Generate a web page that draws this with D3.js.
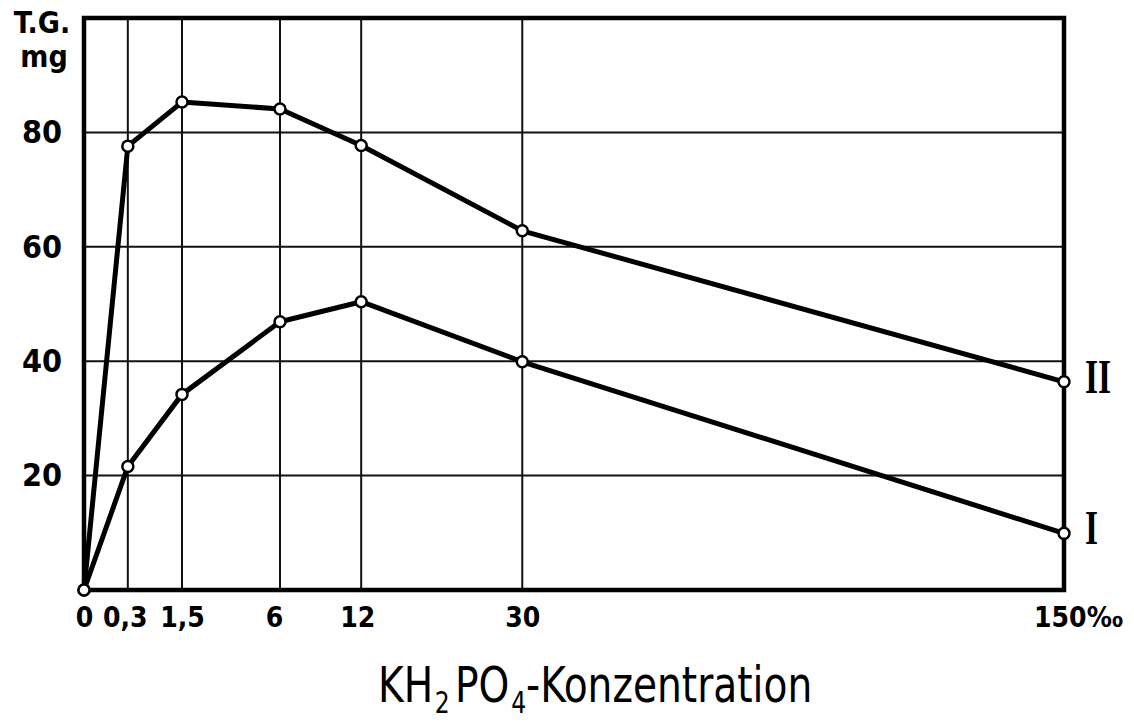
<!DOCTYPE html>
<html>
<head>
<meta charset="utf-8">
<script src="https://cdn.jsdelivr.net/npm/d3@7"></script>
<style>
   body { margin: 0; background: #fff; }
   svg { display: block; }
</style>
</head>
<body>
<svg width="1134" height="722"></svg>
<script>
// concentration of KH2PO4 (per mille)
var concentrations = [0, 0.3, 1.5, 6, 12, 30, 150];
// dry weight (T.G., mg)
var curveI = [0, 21.6, 34.2, 46.9, 50.4, 39.9, 9.9];
var curveII = [0, 77.6, 85.3, 84.1, 77.7, 62.8, 36.4];
var seriesNames = ['I', 'II'];
var yTicks = [20, 40, 60, 80];

var svg = d3.select('svg');

var margin = {top: 18, right: 70, bottom: 132, left: 84};
var width = +svg.attr('width') - margin.left - margin.right;
var height = +svg.attr('height') - margin.top - margin.bottom;

var g = svg.append('g').attr('transform', 'translate(' + margin.left + ',' + margin.top + ')');

var x = d3.scaleSqrt().domain([0, 150]).range([0, width]);
var y = d3.scaleLinear().domain([0, 100]).range([height, 0]);

var tickFont = '"DejaVu Sans Condensed", "DejaVu Sans", sans-serif';

// grid
g.append('g')
   .selectAll('line')
   .data(concentrations.slice(1, -1))
   .enter().append('line')
   .attr('x1', function (d) { return x(d); })
   .attr('x2', function (d) { return x(d); })
   .attr('y1', 0).attr('y2', height)
   .attr('stroke', '#111').attr('stroke-width', 2);

g.append('g')
   .selectAll('line')
   .data(yTicks)
   .enter().append('line')
   .attr('x1', 0).attr('x2', width)
   .attr('y1', function (d) { return y(d); })
   .attr('y2', function (d) { return y(d); })
   .attr('stroke', '#111').attr('stroke-width', 2);

// frame
g.append('rect')
   .attr('width', width).attr('height', height)
   .attr('fill', 'none').attr('stroke', '#000').attr('stroke-width', 4.5);

// axes (labels only)
var xAxis = g.append('g')
   .attr('transform', 'translate(0,' + height + ')')
   .call(d3.axisBottom(x).tickValues(concentrations).tickSize(0).tickPadding(17)
      .tickFormat(function (d) {
         return d === 150 ? '150‰' : String(d).replace('.', ',');
      }));
xAxis.select('.domain').remove();
xAxis.selectAll('text')
   .attr('font-family', tickFont).attr('font-weight', 'bold')
   .attr('font-size', 28).attr('fill', '#000')
   .attr('dx', function (d) {
      return d === 150 ? 14 : (d === 0.3 ? -3 : (d === 6 ? -6 : (d === 12 ? -4 : 0)));
   });

var yAxis = g.append('g')
   .call(d3.axisLeft(y).tickValues(yTicks).tickSize(0).tickPadding(22));
yAxis.select('.domain').remove();
yAxis.selectAll('text')
   .attr('font-family', tickFont).attr('font-weight', 'bold')
   .attr('font-size', 32).attr('fill', '#000');

// y unit label
svg.append('text')
   .attr('x', 42).attr('y', 33)
   .attr('text-anchor', 'middle')
   .attr('font-family', tickFont).attr('font-weight', 'bold').attr('font-size', 30)
   .text('T.G.');
svg.append('text')
   .attr('x', 44).attr('y', 67)
   .attr('text-anchor', 'middle')
   .attr('font-family', tickFont).attr('font-weight', 'bold').attr('font-size', 30)
   .text('mg');

// x title
var title = svg.append('text')
   .attr('transform', 'translate(378,702) scale(0.87,1)')
   .attr('font-family', tickFont).attr('font-size', 50);
title.append('tspan').text('KH');
title.append('tspan').attr('font-size', 30).attr('dy', 11).attr('dx', 2).text('2');
title.append('tspan').attr('dy', -11).attr('dx', 6).text('PO');
title.append('tspan').attr('font-size', 30).attr('dy', 11).attr('dx', 2).text('4');
title.append('tspan').attr('dy', -11).text('-Konzentration');

// curves
var line = d3.line()
   .x(function (d, i) { return x(concentrations[i]); })
   .y(function (d) { return y(d); });

var series = [curveI, curveII];

g.selectAll('path.curve')
   .data(series)
   .enter().append('path')
   .attr('class', 'curve')
   .attr('d', line)
   .attr('fill', 'none')
   .attr('stroke', '#000')
   .attr('stroke-width', 5)
   .attr('stroke-linejoin', 'round');

series.forEach(function (s) {
   g.selectAll(null)
      .data(s)
      .enter().append('circle')
      .attr('cx', function (d, i) { return x(concentrations[i]); })
      .attr('cy', function (d) { return y(d); })
      .attr('r', 5.5)
      .attr('fill', '#fff')
      .attr('stroke', '#000')
      .attr('stroke-width', 2.5);
});

// curve labels
g.selectAll('text.series')
   .data(seriesNames)
   .enter().append('text')
   .attr('x', width + 21)
   .attr('y', function (d, i) { return y(series[i][series[i].length - 1]) + 11; })
   .attr('font-family', '"Liberation Serif", "DejaVu Serif", serif')
   .attr('font-weight', 'bold')
   .attr('font-size', 48)
   .attr('textLength', function (d) { return d.length * 13; })
   .attr('lengthAdjust', 'spacingAndGlyphs')
   .text(function (d) { return d; });
</script>
</body>
</html>
